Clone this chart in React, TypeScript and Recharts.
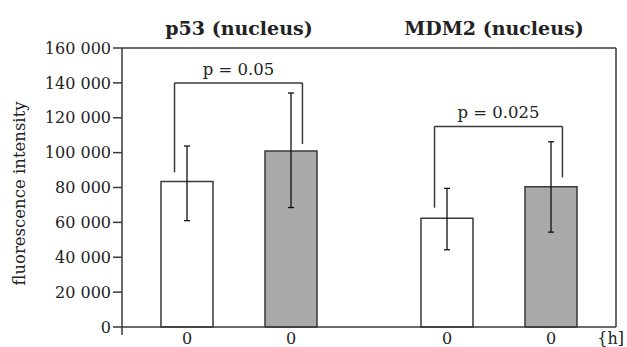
import React from "react";
import {
  BarChart,
  Bar,
  XAxis,
  YAxis,
  Cell,
  ErrorBar,
  ReferenceLine,
  Label,
} from "recharts";

// values
const proteins = ["p53 (nucleus)", "MDM2 (nucleus)"];
const timeLabels = ["0", "0", "0", "0"];
const means = [83500, 101000, 62300, 80500];
const errLow = [61000, 68500, 44300, 54400];
const errHigh = [103800, 134200, 79500, 106200];
const yTicks = [0, 20000, 40000, 60000, 80000, 100000, 120000, 140000, 160000];

// significance brackets: label, bar height, left/right leg ends
const pLabels = ["p = 0.05", "p = 0.025"];
const bracketTop = [140000, 115000];
const bracketLeftEnd = [88700, 68400];
const bracketRightEnd = [104900, 85800];

// layout
const slots = [0, 1, 2.5, 3.5];
const groupSlots = [
  [0, 1],
  [2.5, 3.5],
];
const titleShift = [0, -5];
const legInset = [-0.12, 0.11];
const X_MIN = -0.625;
const X_MAX = 4.125;
const fills = ["#ffffff", "#a9a9a9", "#ffffff", "#a9a9a9"];
const ink = "#3a3a3a";
const font = "DejaVu Serif";

const data = means.map((m, i) => ({
  x: slots[i],
  value: m,
  err: [m - errLow[i], errHigh[i] - m],
}));

const fmt = (v: number) => String(v).replace(/\B(?=(\d{3})+(?!\d))/g, " ");

const tickFont = { fontFamily: font, fontSize: 16, fill: "#222" };

export default function App() {
  return (
    <div style={{ position: "absolute", left: 0, top: 0, width: 627, height: 347, background: "#fff" }}>
      <BarChart
        width={627}
        height={347}
        data={data}
        margin={{ top: 48, right: 11, bottom: 0, left: 0 }}
      >
        <XAxis
          dataKey="x"
          type="number"
          domain={[X_MIN, X_MAX]}
          allowDataOverflow
          ticks={slots}
          tickFormatter={(_v: number, i: number) => timeLabels[i]}
          tickLine={false}
          tickSize={0}
          tickMargin={6}
          height={20}
          axisLine={{ stroke: ink, strokeWidth: 1.5 }}
          tick={tickFont}
          interval={0}
        >
          <Label
            value="{h]"
            position="insideBottomRight"
            offset={3}
            dx={11}
            fontFamily={font}
            fontSize={16}
            fill="#222"
          />
        </XAxis>
        <YAxis
          type="number"
          domain={[0, 160000]}
          ticks={yTicks}
          tickFormatter={fmt}
          width={122}
          tickSize={9}
          tickMargin={2}
          interval={0}
          axisLine={{ stroke: ink, strokeWidth: 1.5 }}
          tickLine={{ stroke: ink, strokeWidth: 1.5 }}
          tick={tickFont}
        >
          <Label
            content={({ viewBox }: any) => {
              const cx = viewBox.x + 25;
              const cy = viewBox.y + viewBox.height / 2 + 6;
              return (
                <text
                  x={cx}
                  y={cy}
                  transform={`rotate(-90, ${cx}, ${cy})`}
                  textAnchor="middle"
                  fontFamily={font}
                  fontSize={16.5}
                  fill="#222"
                >
                  fluorescence intensity
                </text>
              );
            }}
          />
        </YAxis>

        {/* frame */}
        <ReferenceLine y={160000} stroke={ink} strokeWidth={1.5} />
        <ReferenceLine x={X_MAX} stroke={ink} strokeWidth={1.5} />
        <ReferenceLine
          segment={[
            { x: X_MIN, y: 0 },
            { x: X_MIN, y: -4600 },
          ]}
          stroke={ink}
          strokeWidth={1.5}
          ifOverflow="visible"
        />

        {/* titles */}
        {proteins.map((p, g) => (
          <ReferenceLine
            key={p}
            segment={[
              { x: groupSlots[g][0], y: 160000 },
              { x: groupSlots[g][1], y: 160000 },
            ]}
            stroke="none"
            label={{
              value: p,
              position: "top",
              offset: 13,
              dx: titleShift[g],
              fontFamily: font,
              fontSize: 19,
              fontWeight: "bold",
              fill: "#222",
            }}
          />
        ))}

        {/* significance brackets */}
        {pLabels.map((p, g) => {
          const xl = groupSlots[g][0] + legInset[0];
          const xr = groupSlots[g][1] + legInset[1];
          return (
            <React.Fragment key={p}>
              <ReferenceLine
                segment={[
                  { x: xl, y: bracketTop[g] },
                  { x: xr, y: bracketTop[g] },
                ]}
                stroke={ink}
                strokeWidth={1.5}
                label={{
                  value: p,
                  position: "top",
                  offset: 8,
                  fontFamily: font,
                  fontSize: 16.5,
                  fill: "#222",
                }}
              />
              <ReferenceLine
                segment={[
                  { x: xl, y: bracketTop[g] },
                  { x: xl, y: bracketLeftEnd[g] },
                ]}
                stroke={ink}
                strokeWidth={1.5}
              />
              <ReferenceLine
                segment={[
                  { x: xr, y: bracketTop[g] },
                  { x: xr, y: bracketRightEnd[g] },
                ]}
                stroke={ink}
                strokeWidth={1.5}
              />
            </React.Fragment>
          );
        })}

        <Bar dataKey="value" barSize={52} stroke={ink} strokeWidth={1.5} isAnimationActive={false}>
          {data.map((_d, i) => (
            <Cell key={i} fill={fills[i]} />
          ))}
          <ErrorBar dataKey="err" direction="y" width={3} stroke="#111" strokeWidth={1.3} />
        </Bar>
      </BarChart>
    </div>
  );
}
